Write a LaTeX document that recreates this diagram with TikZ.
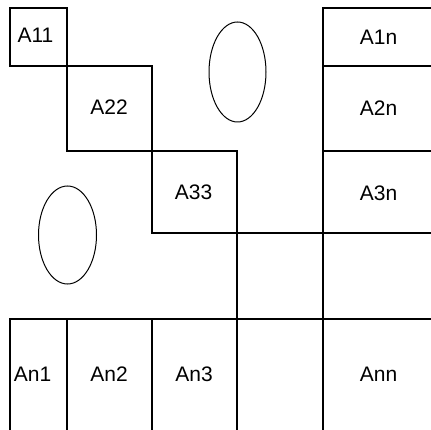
\documentclass[tikz,border=0pt]{standalone}
\usepackage{fontspec}
\setmainfont{Liberation Sans}
\begin{document}
\begin{tikzpicture}[x=1pt,y=-1pt,
  grid/.style={line width=1.1pt,line cap=rect},
  lbl/.style={font=\fontsize{21}{24}\selectfont,inner sep=0pt},
  blob/.style={line width=1pt}]
\useasboundingbox (0,0) rectangle (431,430);
% lines
\draw[grid] (10,8) rectangle (67,66);
\draw[grid] (67,66) rectangle (152,151);
\draw[grid] (152,151) -- (152,233) -- (431,233);
\draw[grid] (152,151) -- (237,151) -- (237,430);
\draw[grid] (431,8) -- (323,8) -- (323,430);
\draw[grid] (323,66) -- (431,66);
\draw[grid] (323,151) -- (431,151);
\draw[grid] (10,430) -- (10,319) -- (431,319);
\draw[grid] (67,319) -- (67,430);
\draw[grid] (152,319) -- (152,430);
% ellipses
\draw[blob] (237.5,72) ellipse [x radius=28.5,y radius=50];
\draw[blob] (67.5,235) ellipse [x radius=29,y radius=49];
% labels
\node[lbl] (a11) at (35.5,35) {A11};
\node[lbl] (a22) at (109,107.5) {A22};
\node[lbl] (a33) at (193.5,192.5) {A33};
\node[lbl] (a1n) at (378.5,37) {A1n};
\node[lbl] (a2n) at (378.5,108) {A2n};
\node[lbl] (a3n) at (378.5,193) {A3n};
\node[lbl] (an1) at (32.5,374.5) {An1};
\node[lbl] (an2) at (109,374.5) {An2};
\node[lbl] (an3) at (194,374.5) {An3};
\node[lbl] (ann) at (378.5,374.5) {Ann};
\end{tikzpicture}
\end{document}
